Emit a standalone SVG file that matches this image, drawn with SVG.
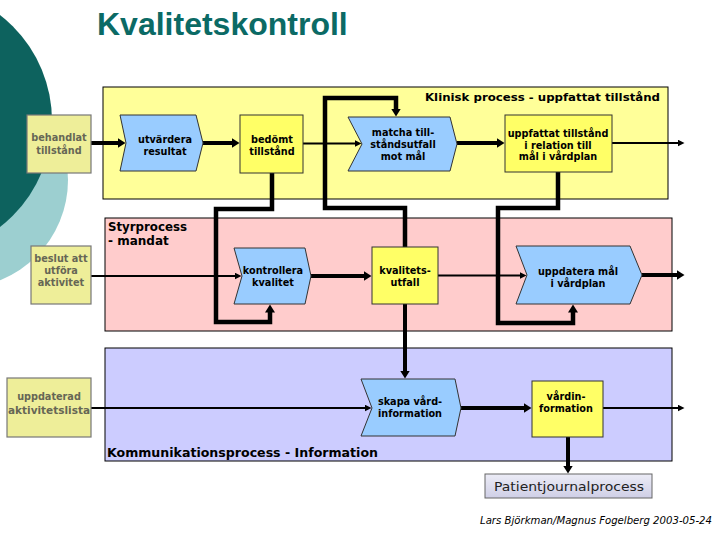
<svg xmlns="http://www.w3.org/2000/svg" width="720" height="540" viewBox="0 0 720 540">
<defs>
<style>
.t{font-family:"DejaVu Sans","Verdana",sans-serif;font-weight:bold;font-size:9.7px;text-anchor:middle;fill:#000}
.tg{font-family:"DejaVu Sans","Verdana",sans-serif;font-weight:bold;font-size:9.7px;text-anchor:middle;fill:#666655}
.pl{font-family:"DejaVu Sans","Verdana",sans-serif;font-weight:bold;fill:#000}
.chev{fill:#99ccff;stroke:#333;stroke-width:1}
.ybox{fill:#ffff66;stroke:#333;stroke-width:1}
.lbox{fill:#eeee99;stroke:#777;stroke-width:1.2}
.thick{fill:none;stroke:#000;stroke-width:4}
.loop{fill:none;stroke:#000;stroke-width:4.5}
.thin{fill:none;stroke:#000;stroke-width:2}
</style>
<marker id="ah" markerUnits="userSpaceOnUse" markerWidth="9" markerHeight="11" refX="0.5" refY="5" orient="auto">
<path d="M0,0 L8,5 L0,10 z" fill="#000"/>
</marker>
<marker id="as" markerUnits="userSpaceOnUse" markerWidth="8" markerHeight="8" refX="0.5" refY="3.5" orient="auto">
<path d="M0,0 L7,3.5 L0,7 z" fill="#000"/>
</marker>
<linearGradient id="pg" x1="0" y1="0" x2="0" y2="1">
<stop offset="0" stop-color="#ececf6"/>
<stop offset="1" stop-color="#cfcfe6"/>
</linearGradient>
</defs>
<rect width="720" height="540" fill="#fff"/>
<g id="background">
<circle cx="-40" cy="180" r="108" fill="#9ccfd0"/>
<circle cx="-82" cy="121" r="134" fill="#0d625e"/>
<text x="97" y="35" font-family="Liberation Sans, Arial, sans-serif" font-weight="bold" font-size="32" fill="#0b6a65">Kvalitetskontroll</text>
</g>
<g id="panel-klinisk">
<rect x="103" y="87" width="565" height="112" fill="#ffff99" stroke="#000" stroke-width="1"/>
<text class="pl" x="425" y="101" font-size="11" textLength="235" lengthAdjust="spacingAndGlyphs">Klinisk process - uppfattat tillstånd</text>
</g>
<g id="panel-styr">
<rect x="105" y="218" width="567" height="113" fill="#ffcccc" stroke="#000" stroke-width="1"/>
<text class="pl" x="108" y="231" font-size="12" textLength="79" lengthAdjust="spacingAndGlyphs">Styrprocess</text>
<text class="pl" x="108" y="245" font-size="12">- mandat</text>
</g>
<g id="panel-kommunikation">
<rect x="105" y="348" width="567" height="113" fill="#ccccff" stroke="#000" stroke-width="1"/>
<text class="pl" x="107" y="457" font-size="12" textLength="271" lengthAdjust="spacingAndGlyphs">Kommunikationsprocess - Information</text>
</g>
<g id="connectors">
<path class="thick" d="M91,143 H118" marker-end="url(#ah)"/>
<path class="thick" d="M203,143 H232" marker-end="url(#ah)"/>
<path class="thick" d="M457,143 H497" marker-end="url(#ah)"/>
<path class="thick" d="M311,276 H364" marker-end="url(#ah)"/>
<path class="thick" d="M642,275 H677" marker-end="url(#ah)"/>
<path class="thick" d="M461,408 H524" marker-end="url(#ah)"/>
<path class="thick" d="M568,437 V466" marker-end="url(#ah)"/>
<path class="thick" d="M405,304 V371" marker-end="url(#ah)"/>
<path class="loop" d="M272,173 V209 H216 V322 H270 V312" marker-end="url(#ah)"/>
<path class="loop" d="M405,247 V208 H325 V98 H396 V109" marker-end="url(#ah)"/>
<path class="loop" d="M558,172 V208 H498 V323 H573 V312" marker-end="url(#ah)"/>
<path class="thin" d="M303,143.5 H355" marker-end="url(#as)"/>
<path class="thin" d="M612,143 H678" marker-end="url(#as)"/>
<path class="thin" d="M91,276 H235" marker-end="url(#as)"/>
<path class="thin" d="M438,275.5 H520" marker-end="url(#as)"/>
<path class="thin" d="M91,408 H365" marker-end="url(#as)"/>
<path class="thin" d="M603,408 H678" marker-end="url(#as)"/>
</g>
<g id="behandlat">
<rect class="lbox" x="27" y="115" width="64" height="58"/>
<text class="tg" x="59" y="141">behandlat</text>
<text class="tg" x="59" y="154">tillstånd</text>
</g>
<g id="beslut">
<rect class="lbox" x="31" y="246" width="60" height="58"/>
<text class="tg" x="61" y="262">beslut att</text>
<text class="tg" x="61" y="274">utföra</text>
<text class="tg" x="61" y="286">aktivitet</text>
</g>
<g id="uppdaterad">
<rect class="lbox" x="7" y="378" width="84" height="59"/>
<text class="tg" x="49" y="400">uppdaterad</text>
<text class="tg" x="49" y="414" textLength="82" lengthAdjust="spacingAndGlyphs">aktivitetslista</text>
</g>
<g id="utvardera">
<polygon class="chev" points="120,115 196,115 203,143 196,171 120,171 126,143"/>
<text class="t" x="165" y="143">utvärdera</text>
<text class="t" x="165" y="155">resultat</text>
</g>
<g id="bedomt">
<rect class="ybox" x="240" y="115" width="63" height="58"/>
<text class="t" x="272" y="143">bedömt</text>
<text class="t" x="272" y="155">tillstånd</text>
</g>
<g id="matcha">
<polygon class="chev" points="348,117 450,117 457,144 450,171 348,171 362,144"/>
<text class="t" x="403" y="136">matcha till-</text>
<text class="t" x="403" y="148">ståndsutfall</text>
<text class="t" x="403" y="160">mot mål</text>
</g>
<g id="uppfattat">
<rect class="ybox" x="505" y="115" width="107" height="57"/>
<text class="t" x="558" y="137">uppfattat tillstånd</text>
<text class="t" x="558" y="148.5">i relation till</text>
<text class="t" x="558" y="160">mål i vårdplan</text>
</g>
<g id="kontrollera">
<polygon class="chev" points="234,248 305,248 311,276 305,304 234,304 242,276"/>
<text class="t" x="273" y="274">kontrollera</text>
<text class="t" x="273" y="286">kvalitet</text>
</g>
<g id="kvalitetsutfall">
<rect class="ybox" x="372" y="247" width="66" height="57"/>
<text class="t" x="405" y="274">kvalitets-</text>
<text class="t" x="405" y="286">utfall</text>
</g>
<g id="uppdatera">
<polygon class="chev" points="516,246 630,246 642,275 630,304 516,304 527,275"/>
<text class="t" x="578" y="275">uppdatera mål</text>
<text class="t" x="578" y="287">i vårdplan</text>
</g>
<g id="skapa">
<polygon class="chev" points="361,379 455,379 461,408 455,436 361,436 372,408"/>
<text class="t" x="410" y="405">skapa vård-</text>
<text class="t" x="410" y="417">information</text>
</g>
<g id="vardinformation">
<rect class="ybox" x="532" y="381" width="71" height="56"/>
<text class="t" x="566" y="400">vårdin-</text>
<text class="t" x="566" y="412">formation</text>
</g>
<g id="patientjournalprocess">
<rect x="485" y="474" width="167" height="24" fill="url(#pg)" stroke="#666" stroke-width="1"/>
<text x="569" y="491" font-family="DejaVu Sans, Verdana, sans-serif" font-size="13" text-anchor="middle" fill="#222" textLength="150" lengthAdjust="spacingAndGlyphs">Patientjournalprocess</text>
</g>
<g id="credit">
<text x="480" y="524" font-family="DejaVu Sans, Verdana, sans-serif" font-style="italic" font-size="10" fill="#000" textLength="232" lengthAdjust="spacingAndGlyphs">Lars Björkman/Magnus Fogelberg 2003-05-24</text>
</g>
</svg>
